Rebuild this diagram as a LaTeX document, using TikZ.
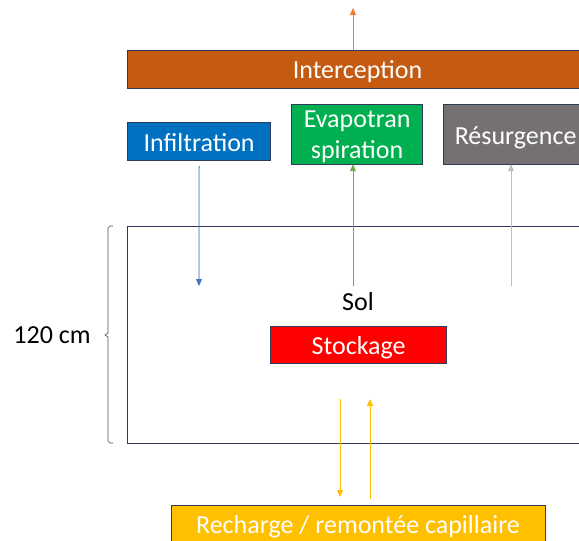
\documentclass[tikz,border=0pt]{standalone}
\usepackage{fontspec}
\setmainfont{Carlito}
\usetikzlibrary{arrows.meta}
\definecolor{cInter}{HTML}{C55A11}
\definecolor{cInfil}{HTML}{0070C0}
\definecolor{cEvap}{HTML}{00B050}
\definecolor{cRes}{HTML}{767171}
\definecolor{cStock}{HTML}{FF0000}
\definecolor{cRech}{HTML}{FFC000}
\definecolor{cBorder}{HTML}{2F3B58}
\definecolor{aOrange}{HTML}{ED7D31}
\definecolor{aBlue}{HTML}{4472C4}
\definecolor{aGreen}{HTML}{70AD47}
\definecolor{aGray}{HTML}{BFBFBF}
\definecolor{aYellow}{HTML}{FFC000}
\tikzset{
  bigfont/.style={font=\fontsize{26}{28}\selectfont},
  lowtext/.style={text height=19pt, text depth=0pt},
  flowbox/.style={draw=cBorder, line width=1.2pt, text=white, inner sep=0pt, align=center, bigfont},
  flowarrow/.style={line width=0.8pt, -{Triangle[length=7pt,width=6pt]}},
}
\begin{document}
\begin{tikzpicture}[x=1pt,y=-1pt]
\useasboundingbox (0,0) rectangle (579,541);
\clip (0,0) rectangle (579,541);
% soil box
\node[draw=cBorder, line width=1.2pt, minimum width=462pt, minimum height=217pt, inner sep=0pt, anchor=north west] (sol) at (127,226) {};
\node[bigfont] (soltxt) at (358,302) {Sol};
% boxes
\node[flowbox, fill=cInter, minimum width=461pt, minimum height=38pt, anchor=north west] (inter) at (127,50) {};
\node[text=white, bigfont, lowtext] (intertxt) at (357.5,69) {Interception};
\node[flowbox, lowtext, fill=cInfil, minimum width=143pt, minimum height=38pt, anchor=north west] (infil) at (127,122) {Infiltration};
\node[flowbox, fill=cEvap, minimum width=131pt, minimum height=60pt, anchor=north west, font=\fontsize{26}{31}\selectfont, text depth=0pt] (evap) at (291,104) {Evapotran\\spiration};
\node[flowbox, lowtext, fill=cRes, minimum width=144pt, minimum height=60pt, anchor=north west] (res) at (443,104) {Résurgence};
\node[flowbox, lowtext, fill=cStock, minimum width=176pt, minimum height=37pt, anchor=north west] (stock) at (270,326) {Stockage};
\node[flowbox, fill=cRech, minimum width=374pt, minimum height=40pt, anchor=north west] (rech) at (171,505) {};
\node[text=white, bigfont, lowtext] (rechtxt) at (358,524) {Recharge / remontée capillaire};
% free ends
\coordinate (top) at (353,8);
\coordinate (infilEnd) at (199,286);
\coordinate (evapStart) at (353,286);
\coordinate (resStart) at (511,286);
\coordinate (downStart) at (340,399);
\coordinate (upEnd) at (370,399);
% arrows
\draw[flowarrow, draw=aOrange, fill=aOrange] (inter.north -| top) -- (top);
\draw[flowarrow, draw=aBlue, fill=aBlue] (infil.south) ++(0,5) -- (infilEnd);
\draw[flowarrow, draw=aGreen, fill=aGreen] (evapStart) -- ([yshift=1pt]evap.south -| evapStart);
\draw[flowarrow, draw=aGray, fill=aGray] (resStart) -- ([yshift=1pt]res.south -| resStart);
\draw[flowarrow, draw=aYellow, fill=aYellow] (downStart) -- ([yshift=8pt]rech.north -| downStart);
\draw[flowarrow, draw=aYellow, fill=aYellow] ([yshift=6pt]rech.north -| upEnd) -- (upEnd);
% bracket
\draw[draw=black!70, line width=0.6pt] (113,226) -- (110,226) -- (108,228) -- (108,333) -- (105,335) -- (108,337) -- (108,441) -- (110,443) -- (113,443);
\node[bigfont, anchor=center] (dim) at (52,335) {120 cm};
\end{tikzpicture}
\end{document}
